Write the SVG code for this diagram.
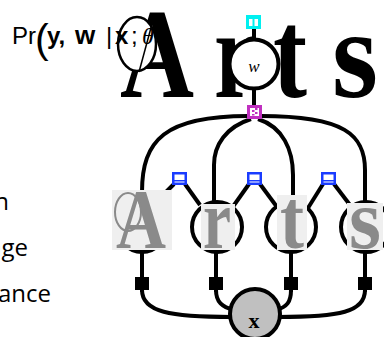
<svg xmlns="http://www.w3.org/2000/svg" width="384" height="337" viewBox="0 0 384 337">
<style>
.big{font-family:"Liberation Serif",serif;font-weight:bold;font-size:128px;fill:#000}
.gl{font-family:"Liberation Serif",serif;font-weight:bold;font-size:85px;fill:#8a8a8a}
.box{fill:#efefef}
.edge{fill:none;stroke:#000;stroke-width:4}
.node{fill:#fff;stroke:#000;stroke-width:4}
.side{font-family:"Open Sans","Noto Sans",sans-serif;font-size:24px;fill:#000}
.f{font-family:"Liberation Sans",Arial,sans-serif;font-size:24px;fill:#000}
</style>
<rect width="384" height="337" fill="#fff"/>
<g id="background-letters">
<text class="big" x="120" y="97" textLength="74" lengthAdjust="spacingAndGlyphs">A</text>
<text class="big" x="214" y="97" textLength="42" lengthAdjust="spacingAndGlyphs">r</text>
<text class="big" x="273" y="97" textLength="34" lengthAdjust="spacingAndGlyphs">t</text>
<text class="big" x="332" y="97" textLength="46" lengthAdjust="spacingAndGlyphs">s</text>
<ellipse cx="137" cy="44" rx="19" ry="27" fill="#fff" stroke="#000" stroke-width="2.5"/>
<line x1="152" y1="24" x2="139" y2="72" stroke="#000" stroke-width="1.5"/>
</g>
<g id="formula">
<text class="f" x="12" y="44">Pr<tspan x="35" y="53" font-size="41">(</tspan><tspan x="47" y="44" font-weight="bold">y,</tspan><tspan x="75" font-weight="bold" font-size="26">w</tspan><tspan x="106">|</tspan><tspan x="115" font-weight="bold">x</tspan><tspan x="131">;</tspan><tspan x="142" font-family="Liberation Serif,serif" font-style="italic">θ</tspan></text>
</g>
<g id="side-text">
<text class="side" x="9" y="210" text-anchor="end">n</text>
<text class="side" x="28" y="256" text-anchor="end">nge</text>
<text class="side" x="51" y="302" text-anchor="end">ance</text>
</g>
<g id="connectors">
<line class="edge" x1="254" y1="28" x2="254" y2="40"/>
<line class="edge" x1="254" y1="88" x2="254" y2="106"/>
<path class="edge" d="M248,116 C165,116 142,140 142,192"/>
<path class="edge" d="M251,119 C226,127 214,145 214,165 L214,204"/>
<path class="edge" d="M258,119 C283,127 293,150 293,175 L293,200"/>
<path class="edge" d="M261,116 C345,116 365,135 365,170 L365,204"/>
<line class="edge" x1="174" y1="184" x2="160" y2="198"/>
<line class="edge" x1="185" y1="184" x2="200" y2="205"/>
<line class="edge" x1="249" y1="184" x2="232" y2="208"/>
<line class="edge" x1="260" y1="184" x2="277" y2="207"/>
<line class="edge" x1="323" y1="184" x2="308" y2="208"/>
<line class="edge" x1="334" y1="184" x2="350" y2="205"/>
<line class="edge" x1="142" y1="250" x2="142" y2="292"/>
<line class="edge" x1="216" y1="250" x2="216" y2="292"/>
<line class="edge" x1="291" y1="250" x2="291" y2="292"/>
<line class="edge" x1="365" y1="250" x2="365" y2="292"/>
<path class="edge" d="M142,290 C142,312 170,317 232,317"/>
<path class="edge" d="M216,290 C216,302 222,307 234,310"/>
<path class="edge" d="M291,290 C291,302 287,307 276,310"/>
<path class="edge" d="M365,290 C365,312 340,317 278,317"/>
</g>
<g id="node-w">
<circle class="node" cx="254" cy="64" r="24.5"/>
<text x="254" y="72" text-anchor="middle" font-family="Liberation Serif,serif" font-style="italic" font-size="17">w</text>
</g>
<g id="factor-top">
<rect x="246" y="15" width="15" height="14" fill="#00f0f0"/>
<rect x="249" y="19" width="3.5" height="7" fill="#fff"/>
<rect x="254.5" y="19" width="3.5" height="7" fill="#fff"/>
</g>
<g id="factor-w">
<rect x="247" y="105" width="15" height="14" fill="#c030c0"/>
<rect x="250" y="108" width="9" height="8" fill="#fff"/>
<rect x="252" y="110" width="2.5" height="2" fill="#c030c0"/>
<rect x="255" y="112" width="2.5" height="2" fill="#c030c0"/>
<rect x="252" y="114" width="2.5" height="1.5" fill="#c030c0"/>
<rect x="255" y="108" width="2.5" height="2" fill="#c030c0"/>
</g>
<g id="node-A">
<circle class="node" cx="142" cy="227" r="25"/>
<rect class="box" x="112" y="190" width="60" height="60"/>
<text class="gl" x="116" y="248" textLength="50" lengthAdjust="spacingAndGlyphs">A</text>
<ellipse cx="128" cy="212" rx="13" ry="19" fill="none" stroke="#8a8a8a" stroke-width="2"/>
</g>
<g id="node-r">
<circle class="node" cx="217" cy="227" r="25"/>
<rect class="box" x="201" y="204" width="34" height="46"/>
<text class="gl" x="203" y="248" textLength="28" lengthAdjust="spacingAndGlyphs">r</text>
</g>
<g id="node-t">
<circle class="node" cx="291" cy="227" r="25"/>
<rect class="box" x="277" y="195" width="30" height="55"/>
<text class="gl" x="280" y="248" textLength="24" lengthAdjust="spacingAndGlyphs">t</text>
</g>
<g id="node-s">
<circle class="node" cx="366" cy="227" r="25"/>
<rect class="box" x="347" y="203" width="36" height="47"/>
<text class="gl" x="349" y="248" textLength="32" lengthAdjust="spacingAndGlyphs">s</text>
</g>
<g id="factors-pair">
<g><rect x="172" y="172" width="15" height="13" fill="#1a3cff"/><rect x="174.5" y="174.5" width="10" height="5.5" fill="#fff"/><rect x="174.5" y="181.5" width="10" height="1" fill="#fff"/></g>
<g><rect x="247" y="172" width="15" height="13" fill="#1a3cff"/><rect x="249.5" y="174.5" width="10" height="5.5" fill="#fff"/><rect x="249.5" y="181.5" width="10" height="1" fill="#fff"/></g>
<g><rect x="321" y="172" width="15" height="13" fill="#1a3cff"/><rect x="323.5" y="174.5" width="10" height="5.5" fill="#fff"/><rect x="323.5" y="181.5" width="10" height="1" fill="#fff"/></g>
</g>
<g id="factors-x">
<rect x="135" y="277" width="14" height="13" fill="#000"/>
<rect x="209" y="277" width="14" height="13" fill="#000"/>
<rect x="284" y="277" width="14" height="13" fill="#000"/>
<rect x="358" y="277" width="14" height="13" fill="#000"/>
</g>
<g id="node-x">
<circle cx="255" cy="314" r="25" fill="#c0c0c0" stroke="#000" stroke-width="4"/>
<text x="254" y="328" text-anchor="middle" font-family="Liberation Serif,serif" font-weight="bold" font-size="22">x</text>
</g>
</svg>
